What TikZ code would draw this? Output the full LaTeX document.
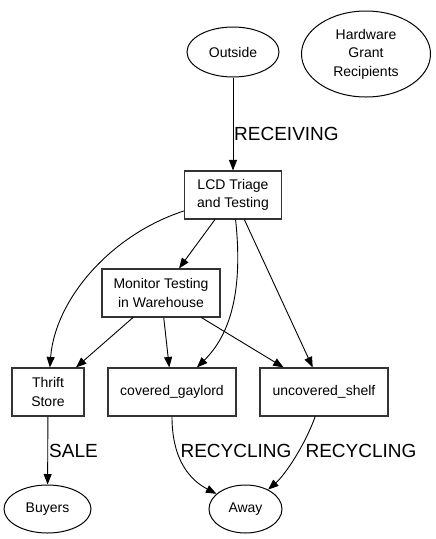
\documentclass[tikz,border=0pt]{standalone}
\usepackage{fontspec}
\setmainfont{Liberation Sans}
\usetikzlibrary{shapes.geometric,arrows.meta}
\tikzset{
  boxnode/.style={draw=black!80, line width=1.1pt, rectangle, inner sep=0pt, minimum height=48pt, align=center, font=\fontsize{14}{18.5}\selectfont},
  ellnode/.style={draw=black, line width=1pt, ellipse, inner sep=0pt, align=center, font=\fontsize{14}{18.5}\selectfont},
  edge/.style={draw=black, line width=0.9pt, -{Triangle[length=10.5pt,width=8pt]}},
  elabel/.style={font=\fontsize{19}{22}\selectfont, inner sep=0pt}
}
\begin{document}
\begin{tikzpicture}[x=1pt,y=-1pt]
\useasboundingbox (0,0) rectangle (436,539);
\node[ellnode, minimum width=92pt, minimum height=50pt] (outside) at (233,52) {Outside};
\node[ellnode, minimum width=129pt, minimum height=86pt] (hgr) at (366,54) {Hardware\\Grant\\Recipients};
\node[boxnode, minimum width=97pt] (lcd) at (233,195) {LCD Triage\\and Testing};
\node[boxnode, minimum width=118pt] (mon) at (161,293) {Monitor Testing\\in Warehouse};
\node[boxnode, minimum width=72pt] (thrift) at (48,392) {Thrift\\Store};
\node[boxnode, minimum width=128pt] (cov) at (172,392) {covered\_gaylord};
\node[boxnode, minimum width=128pt] (unc) at (324,392) {uncovered\_shelf};
\node[ellnode, minimum width=87pt, minimum height=48pt] (buyers) at (47.5,509) {Buyers};
\node[ellnode, minimum width=73pt, minimum height=48pt] (away) at (245.5,509) {Away};

\draw[edge] (outside) -- (lcd);
\node[elabel, anchor=west] (lrec) at (234,134) {RECEIVING};
\draw[edge] (lcd) .. controls (110,235) and (55,300) .. (thrift);
\draw[edge] (lcd) -- (mon);
\draw[edge] (lcd) .. controls (242,280) and (235,330) .. (cov);
\draw[edge] (lcd) -- (unc);
\draw[edge] (mon) -- (thrift);
\draw[edge] (mon) -- (cov);
\draw[edge] (mon) -- (unc);
\draw[edge] (thrift) -- (buyers);
\node[elabel, anchor=west] (lsale) at (49,451) {SALE};
\draw[edge] (cov) .. controls (172,460) and (190,480) .. (away);
\node[elabel] (lrec1) at (236,451) {RECYCLING};
\draw[edge] (unc) .. controls (305,445) and (285,475) .. (away);
\node[elabel] (lrec2) at (361,451) {RECYCLING};
\end{tikzpicture}
\end{document}
